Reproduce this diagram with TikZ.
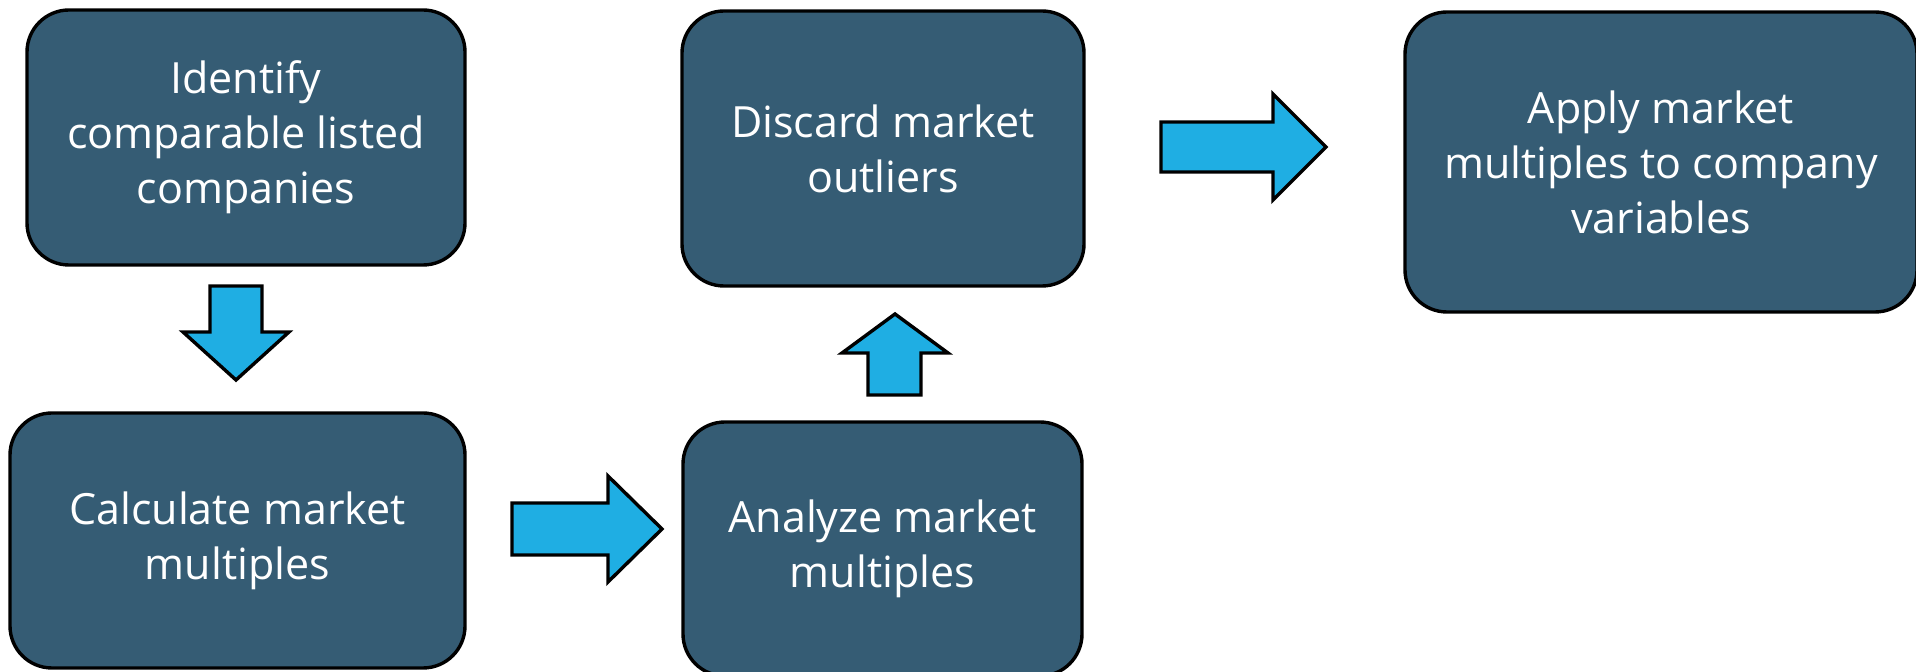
\documentclass[tikz,border=0pt]{standalone}
\usepackage{fontspec}
\setmainfont{Open Sans}
\usetikzlibrary{positioning}
\definecolor{boxblue}{RGB}{53,92,116}
\definecolor{arrowblue}{RGB}{31,174,227}
\tikzset{stepbox/.style={rectangle,
	rounded corners=21pt,
	line width=1.7pt,
	draw=black,
	fill=boxblue,
	text=white,
	align=center,
	font=\fontsize{21.5}{27.5}\selectfont,
	execute at begin node={\rule{0pt}{28pt}}
	},
	blockarrow/.style={line width=1.7pt,
	draw=black,
	fill=arrowblue,
	line join=miter
	}
}

\begin{document}
\begin{tikzpicture}[x=0.5pt,y=-0.5pt]
\useasboundingbox (0,0) rectangle (1916,672);

\node (identify) [stepbox, minimum width=219pt, minimum height=127.5pt] at (246,137.5) {Identify\\comparable listed\\companies};
\node (calculate) [stepbox, minimum width=227.5pt, minimum height=127.5pt] at (237.5,540.5) {Calculate market\\multiples};
\node (analyze) [stepbox, minimum width=199.5pt, minimum height=127pt] at (882.5,549) {Analyze market\\multiples};
\node (discard) [stepbox, minimum width=201pt, minimum height=137.5pt] at (883,148.5) {Discard market\\outliers};
\node (apply) [stepbox, minimum width=256pt, minimum height=150pt] at (1661,162) {Apply market\\multiples to company\\variables};

% block arrows between the steps
\draw [blockarrow] (210,286) -- (262,286) -- (262,332) -- (289,332) -- (236,380) -- (183,332) -- (210,332) -- cycle;
\draw [blockarrow] (512,503) -- (608,503) -- (608,476) -- (662,529) -- (608,582) -- (608,555) -- (512,555) -- cycle;
\draw [blockarrow] (868,395) -- (921,395) -- (921,353) -- (948,353) -- (895,314) -- (842,353) -- (868,353) -- cycle;
\draw [blockarrow] (1161,122) -- (1273,122) -- (1273,94) -- (1326,147) -- (1273,200) -- (1273,172) -- (1161,172) -- cycle;

\end{tikzpicture}
\end{document}
